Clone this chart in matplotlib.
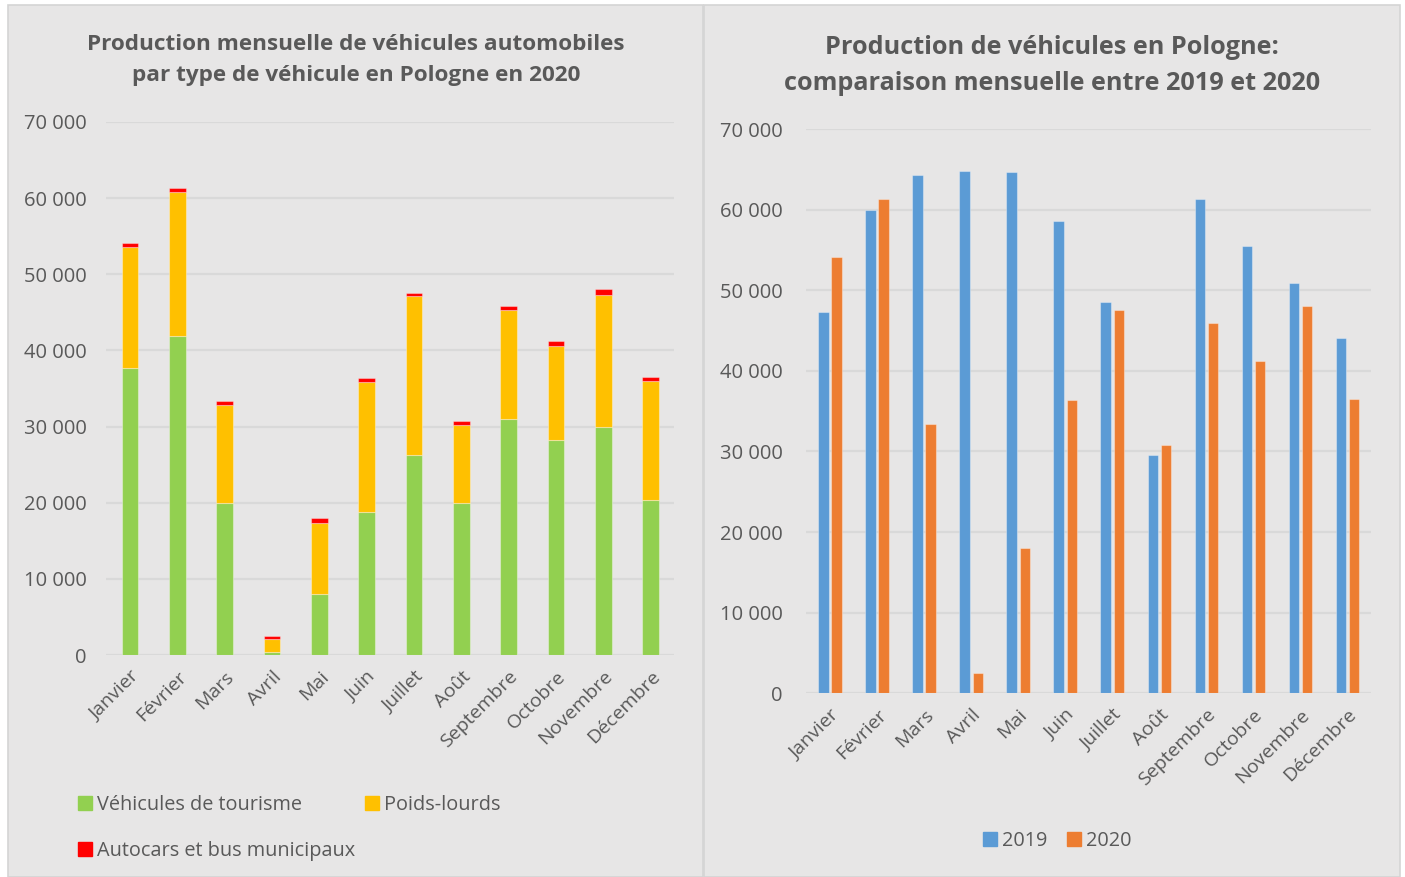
import numpy as np
import matplotlib
matplotlib.use("Agg")
import matplotlib.pyplot as plt
from matplotlib.patches import Rectangle, Patch
from matplotlib.ticker import FuncFormatter

plt.rcParams['font.family'] = ['Open Sans', 'DejaVu Sans']

# donnees
mois = ['Janvier', 'Février', 'Mars', 'Avril', 'Mai', 'Juin', 'Juillet',
        'Août', 'Septembre', 'Octobre', 'Novembre', 'Décembre']
tourisme_2020 = [37700, 41900, 20000, 350, 8050, 18800, 26300, 19900, 31000, 28300, 30000, 20400]
poids_lourds_2020 = [15900, 18900, 12900, 1800, 9350, 17000, 20850, 10300, 14350, 12300, 17300, 15600]
autocars_2020 = [450, 500, 500, 350, 550, 550, 450, 500, 550, 600, 750, 500]
total_2019 = [47300, 60000, 64300, 64800, 64700, 58600, 48500, 29600, 61300, 55500, 50900, 44100]
total_2020 = [54100, 61300, 33400, 2500, 18000, 36350, 47600, 30800, 45900, 41200, 48050, 36550]

gris = '#595959'
fond = '#e7e6e6'
grille = '#d9d9d9'
bord = (1, 1, 1, 0.35)

fig = plt.figure(figsize=(14.05, 8.77), dpi=100)
fig.patch.set_facecolor('white')
# les deux cadres
fig.patches.append(Rectangle((8/1405, 0), 695/1405, 872/877, transform=fig.transFigure,
                             facecolor=fond, edgecolor='#d4d4d4', lw=1.2, zorder=-10))
fig.patches.append(Rectangle((704/1405, 0), 696/1405, 872/877, transform=fig.transFigure,
                             facecolor=fond, edgecolor='#d4d4d4', lw=1.2, zorder=-10))

fmt = FuncFormatter(lambda v, p: '{:,.0f}'.format(v).replace(',', ' '))
x = np.arange(len(mois))


def style_axe(ax, pad_y):
    ax.set_facecolor('none')
    ax.set_ylim(0, 70000)
    ax.set_xlim(-0.5, 11.5)
    ax.set_yticks(np.arange(0, 70001, 10000))
    ax.yaxis.set_major_formatter(fmt)
    ax.grid(axis='y', color=grille, lw=1.6)
    ax.set_axisbelow(True)
    for s in ax.spines.values():
        s.set_visible(False)
    ax.tick_params(length=0, colors=gris, labelsize=14)
    ax.tick_params(axis='y', pad=pad_y, labelsize=14.5)
    ax.tick_params(axis='x', pad=9)
    ax.set_xticks(x)
    ax.set_xticklabels(mois, rotation=45, ha='right', rotation_mode='anchor', color=gris)


# graphique de gauche
ax1 = fig.add_axes([0.0757, 0.2531, 0.4043, 0.6078])
style_axe(ax1, 14)
ax1.bar(x, tourisme_2020, 0.35, color='#92d050', edgecolor=bord, lw=0.8)
ax1.bar(x, poids_lourds_2020, 0.35, bottom=tourisme_2020, color='#ffc000', edgecolor=bord, lw=0.8)
bas = np.array(tourisme_2020) + np.array(poids_lourds_2020)
ax1.bar(x, autocars_2020, 0.35, bottom=bas, color='#ff0000', edgecolor=bord, lw=0.8)
fig.text(356/1405, 1 - 45/877, 'Production mensuelle de véhicules automobiles',
         ha='center', va='center', fontsize=16.2, fontweight='bold', color=gris)
fig.text(356/1405, 1 - 76/877, 'par type de véhicule en Pologne en 2020',
         ha='center', va='center', fontsize=16.2, fontweight='bold', color=gris)
# ordre colonne par colonne
h = [Patch(color='#92d050'), Patch(color='#ff0000'), Patch(color='#ffc000')]
fig.legend(h, ['Véhicules de tourisme', 'Autocars et bus municipaux', 'Poids-lourds'],
           loc='upper left', bbox_to_anchor=(78/1405, 1 - 795/877), ncol=2, frameon=False,
           fontsize=14.3, labelcolor=gris, handlelength=0.7, handleheight=0.7,
           handletextpad=0.25, columnspacing=0.5, labelspacing=1.3, borderpad=0, borderaxespad=0)

# graphique de droite
ax2 = fig.add_axes([0.574, 0.2095, 0.4018, 0.6434])
style_axe(ax2, 17)
ax2.bar(x - 0.14, total_2019, 0.22, color='#5b9bd5', edgecolor=bord, lw=0.8)
ax2.bar(x + 0.14, total_2020, 0.22, color='#ed7d31', edgecolor=bord, lw=0.8)
fig.text(1052/1405, 1 - 47/877, 'Production de véhicules en Pologne:',
         ha='center', va='center', fontsize=18.2, fontweight='bold', color=gris)
fig.text(1052/1405, 1 - 83/877, 'comparaison mensuelle entre 2019 et 2020',
         ha='center', va='center', fontsize=18.2, fontweight='bold', color=gris)
h2 = [Patch(color='#5b9bd5'), Patch(color='#ed7d31')]
fig.legend(h2, ['2019', '2020'], loc='center', bbox_to_anchor=(1057/1405, 1 - 841/877), ncol=2,
           frameon=False, fontsize=14.3, labelcolor=gris, handlelength=0.7, handleheight=0.7,
           handletextpad=0.25, columnspacing=1.0, borderpad=0)

fig.savefig('out.png', dpi=100, facecolor='white')
